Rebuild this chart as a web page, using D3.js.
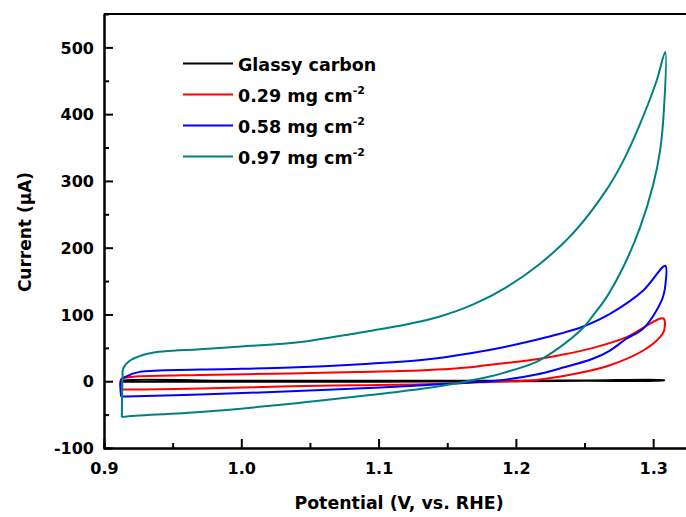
<!DOCTYPE html>
<html>
<head>
<meta charset="utf-8">
<script src="https://cdn.jsdelivr.net/npm/d3@7"></script>
<style>
  html, body { margin: 0; padding: 0; background: #fff; }
  svg { display: block; }
  text { font-family: "DejaVu Sans", "Liberation Sans", Arial, sans-serif; font-weight: bold; fill: #000; }
</style>
</head>
<body>
<svg id="chart" width="686" height="517"></svg>
<script>
// Cyclic voltammograms: each loop is a list of [potential (V vs. RHE), current (µA)]
// traced anodic branch first, then the cathodic return.
const glassyCarbon = [
  [0.913, -0.6], [0.913, 0.6], [1.0, 0.6], [1.1, 0.6], [1.2, 0.8], [1.25, 1.1], [1.308, 1.7],
  [1.308, 1.3], [1.25, 0.6], [1.2, 0.1], [1.1, -0.6], [1.0, -0.6], [0.913, -0.6]
];
const load029 = [
  [0.9125, -12], [0.9125, 3], [0.918, 6], [0.926, 7.5], [0.97, 9.5], [1.036, 11.5], [1.084, 14],
  [1.133, 16.5], [1.167, 21], [1.191, 27], [1.215, 33], [1.232, 39], [1.2564, 50], [1.2807, 66], [1.3074, 94],
  [1.308, 76], [1.305, 66], [1.2928, 46], [1.2685, 24], [1.2443, 11.5], [1.215, 2], [1.181, -1],
  [1.133, -4.5], [1.084, -6], [1.036, -7.5], [0.97, -11], [0.916, -12.4], [0.9125, -12]
];
const load058 = [
  [0.9125, -23], [0.9125, 2], [0.916, 7], [0.926, 14], [0.97, 17.4], [1.036, 20.5], [1.084, 25],
  [1.133, 32], [1.167, 42], [1.191, 51], [1.215, 62], [1.232, 71], [1.249, 82], [1.2685, 101], [1.2928, 136], [1.3088, 173],
  [1.309, 146], [1.3062, 121], [1.2928, 79], [1.2807, 64], [1.2685, 46], [1.2564, 34], [1.2321, 19], [1.215, 10],
  [1.191, 2], [1.167, -2], [1.133, -6], [1.084, -11], [1.036, -15], [0.97, -20], [0.916, -23], [0.9125, -23]
];
const load097 = [
  [0.913, -54], [0.9135, 5], [0.914, 19], [0.919, 31], [0.9335, 42], [0.97, 48], [1.0, 52], [1.04, 58],
  [1.084, 72], [1.12, 85], [1.1447, 97], [1.169, 115], [1.1933, 141], [1.2176, 176], [1.2418, 222], [1.2661, 287],
  [1.2782, 330], [1.2904, 385], [1.3025, 450], [1.3088, 493],
  [1.3079, 409], [1.305, 345], [1.3001, 295], [1.2904, 230], [1.2782, 171], [1.2661, 126], [1.2564, 99],
  [1.249, 80], [1.2321, 51], [1.215, 29], [1.191, 12.5], [1.181, 7], [1.162, -1], [1.133, -11], [1.084, -23],
  [1.04, -33], [0.97, -46], [0.9155, -53], [0.913, -54]
];

const seriesNames = ["Glassy carbon", "0.29 mg cm", "0.58 mg cm", "0.97 mg cm"];
const seriesData = [glassyCarbon, load029, load058, load097];
const seriesColors = ["#000000", "#ff0000", "#0000ff", "#008080"];

const xMajorTicks = [0.9, 1.0, 1.1, 1.2, 1.3];
const xMinorTicks = [0.95, 1.05, 1.15, 1.25];
const yMajorTicks = [-100, 0, 100, 200, 300, 400, 500];
const yMinorTicks = [-50, 50, 150, 250, 350, 450];

const svg = d3.select("#chart");
const plot = { left: 104, top: 14, bottom: 448, right: 687.5 };

const x = d3.scaleLinear().domain([0.9, 1.325]).range([plot.left, plot.right]);
const y = d3.scaleLinear().domain([-100, 550]).range([plot.bottom, plot.top]);

// Curves
const line = d3.line()
  .x(d => x(d[0]))
  .y(d => y(d[1]))
  .curve(d3.curveCatmullRom.alpha(0.5));

svg.append("g").selectAll("path")
  .data(seriesData)
  .join("path")
  .attr("d", d => line(d))
  .attr("fill", "none")
  .attr("stroke", (d, i) => seriesColors[i])
  .attr("stroke-width", 2)
  .attr("stroke-linejoin", "round");

// Frame
svg.append("line")
  .attr("x1", plot.left).attr("x2", plot.right)
  .attr("y1", plot.top).attr("y2", plot.top)
  .attr("stroke", "#000").attr("stroke-width", 2);

// Axes with inward ticks
const styleAxis = g => {
  g.attr("font-family", null).attr("font-size", null);
  g.selectAll("path.domain").attr("stroke", "#000").attr("stroke-width", 2);
  g.selectAll(".tick line").attr("stroke", "#000").attr("stroke-width", 2);
  g.selectAll(".tick text").attr("font-size", 16).attr("fill", "#000");
};

svg.append("g")
  .attr("transform", `translate(${plot.left},0)`)
  .call(d3.axisLeft(y).tickValues(yMinorTicks).tickSize(-5).tickFormat(""))
  .call(styleAxis);
svg.append("g")
  .attr("transform", `translate(${plot.left},0)`)
  .call(d3.axisLeft(y).tickValues(yMajorTicks).tickSizeInner(-9).tickSizeOuter(0).tickPadding(10).tickFormat(d => String(d)))
  .call(styleAxis)
  .selectAll(".tick text").attr("dy", "0.36em");

svg.append("g")
  .attr("transform", `translate(0,${plot.bottom})`)
  .call(d3.axisBottom(x).tickValues(xMinorTicks).tickSize(-5).tickFormat(""))
  .call(styleAxis);
svg.append("g")
  .attr("transform", `translate(0,${plot.bottom})`)
  .call(d3.axisBottom(x).tickValues(xMajorTicks).tickSizeInner(-9).tickSizeOuter(0).tickPadding(15).tickFormat(d => d.toFixed(1)))
  .call(styleAxis);

// Axis titles
svg.append("text")
  .attr("x", 399).attr("y", 509)
  .attr("text-anchor", "middle").attr("font-size", 17.4)
  .text("Potential (V, vs. RHE)");
svg.append("text")
  .attr("transform", "translate(31,232) rotate(-90)")
  .attr("text-anchor", "middle").attr("font-size", 17)
  .text("Current (μA)");

// Legend
const legend = svg.append("g");
const legendRows = legend.selectAll("g")
  .data(seriesNames)
  .join("g")
  .attr("transform", (d, i) => `translate(183,${63.5 + i * 31})`);
legendRows.append("line")
  .attr("x1", 0).attr("x2", 50).attr("y1", 0).attr("y2", 0)
  .attr("stroke", (d, i) => seriesColors[i]).attr("stroke-width", 2);
const labels = legendRows.append("text")
  .attr("x", 55).attr("y", 7).attr("font-size", 17.5);
labels.append("tspan").text(d => d);
labels.filter((d, i) => i > 0).append("tspan")
  .attr("font-size", 11).attr("dy", -8).text("-2");
</script>
</body>
</html>
